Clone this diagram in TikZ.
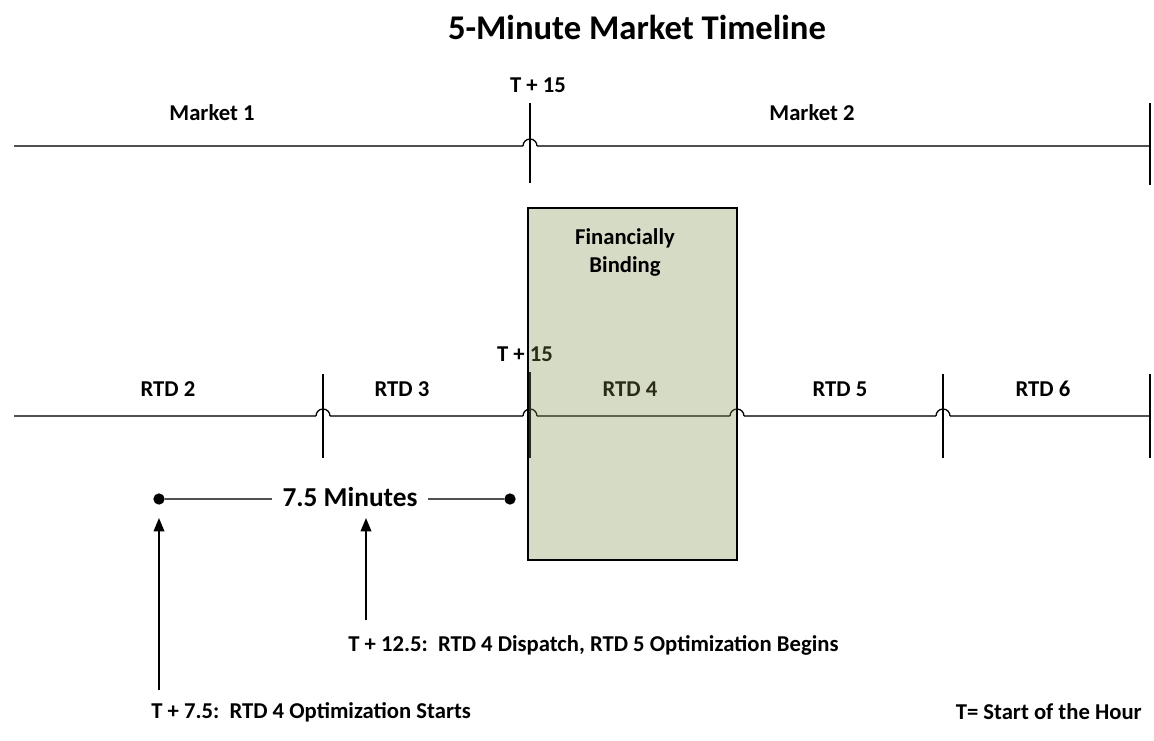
\documentclass[tikz,border=0pt]{standalone}
\usepackage{fontspec}
\setmainfont{Carlito}
\usetikzlibrary{arrows.meta}
\definecolor{linegray}{RGB}{80,80,80}
\definecolor{boxfill}{RGB}{128,142,76}
\begin{document}
\begin{tikzpicture}[x=0.75pt,y=-0.75pt,
  tl/.style={draw=linegray,line width=1.4pt},
  vl/.style={draw=black,line width=1.4pt},
  hop/.style={draw=black,line width=1pt},
  lbl/.style={font=\fontsize{17}{20}\selectfont\bfseries,inner sep=0pt},
  ttl/.style={font=\fontsize{26}{30}\selectfont\bfseries,inner sep=0pt},
  big/.style={font=\fontsize{20.5}{24}\selectfont\bfseries,inner xsep=8pt,inner ysep=0pt},
  dot/.style={circle,fill=black,inner sep=0pt,minimum size=8.5pt},
  arr/.style={draw=black,line width=1.1pt,-{Triangle[length=10pt,width=8pt]}}]
\useasboundingbox (0,0) rectangle (1154,740);

% title
\node[ttl] (title) at (637,27) {5-Minute Market Timeline};

% top timeline
\node[lbl] (m1) at (212,113) {Market 1};
\node[lbl] (t15a) at (538,85) {T + 15};
\node[lbl] (m2) at (812,113) {Market 2};
\coordinate (a0) at (14,146);
\coordinate (a1l) at (523,146);
\coordinate (a1r) at (537,146);
\coordinate (a2) at (1150,146);
\draw[tl] (a0) -- (a1l) (a1r) -- (a2);
\draw[hop] (a1l) arc[start angle=180,end angle=360,radius=7];
\coordinate (v1t) at (530,103); \coordinate (v1b) at (530,183);
\draw[vl] (v1t) -- (v1b);
\coordinate (v2t) at (1150,103); \coordinate (v2b) at (1150,185);
\draw[vl] (v2t) -- (v2b);

% bottom timeline labels
\node[lbl] (r2) at (168,389) {RTD 2};
\node[lbl] (r3) at (402,389) {RTD 3};
\node[lbl] (r4) at (630,389) {RTD 4};
\node[lbl] (r5) at (840,389) {RTD 5};
\node[lbl] (r6) at (1043,389) {RTD 6};
\node[lbl] (t15b) at (525,354) {T + 15};

% bottom timeline
\coordinate (b0) at (14,416);
\coordinate (h1l) at (316,416); \coordinate (h1r) at (330,416);
\coordinate (h2l) at (523,416); \coordinate (h2r) at (537,416);
\coordinate (h3l) at (730,416); \coordinate (h3r) at (744,416);
\coordinate (h4l) at (936,416); \coordinate (h4r) at (950,416);
\coordinate (b5) at (1150,416);
\draw[tl] (b0) -- (h1l) (h1r) -- (h2l) (h2r) -- (h3l) (h3r) -- (h4l) (h4r) -- (b5);
\foreach \h in {h1l,h2l,h3l,h4l}
  \draw[hop] (\h) arc[start angle=180,end angle=360,radius=7];
\foreach \x/\t/\b in {323/374/458, 530/372/458, 943/374/458, 1150/374/458}{
  \draw[vl] (\x,\t) -- (\x,\b);
}

% financially binding box
\coordinate (bx1) at (528,208);
\coordinate (bx2) at (737,560);
\fill[boxfill,fill opacity=0.32] (bx1) rectangle (bx2);
\draw[black,line width=1.4pt] (bx1) rectangle (bx2);
\node[lbl,align=center] (fb) at (625,252) {Financially\\[1pt]Binding};

% 7.5 minutes interval
\node[dot] (d1) at (159,499) {};
\node[dot] (d2) at (510,499) {};
\node[big] (min) at (350,497) {7.5 Minutes};
\draw[linegray,line width=1.2pt] (d1) -- (min.west |- d1);
\draw[linegray,line width=1.2pt] (min.east |- d2) -- (d2);

% arrows
\coordinate (p1) at (159,690); \coordinate (q1) at (159,518);
\coordinate (p2) at (366,620); \coordinate (q2) at (366,518);
\draw[arr] (p1) -- (q1);
\draw[arr] (p2) -- (q2);

% notes
\node[lbl,anchor=west] (n1) at (348,645) {T + 12.5:\ \ RTD 4 Dispatch, RTD 5 Optimization Begins};
\node[lbl,anchor=west] (n2) at (151,712) {T + 7.5:\ \ RTD 4 Optimization Starts};
\node[lbl,anchor=east] (n3) at (1142,712) {T= Start of the Hour};
\end{tikzpicture}
\end{document}
